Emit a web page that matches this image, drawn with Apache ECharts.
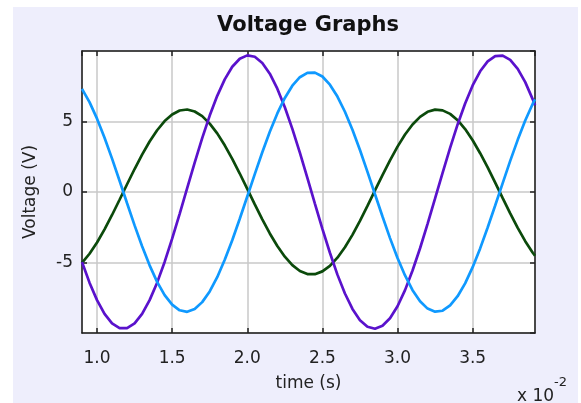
<!DOCTYPE html>
<html>
<head>
<meta charset="utf-8">
<script src="https://cdn.jsdelivr.net/npm/echarts@6/dist/echarts.min.js"></script>
<style>html,body{margin:0;padding:0;background:#fff}#c{width:581px;height:403px}</style>
</head>
<body>
<div id="c"></div>
<script>
// time in units of 10^-2 s
const time = [0.90,0.95,1.00,1.05,1.10,1.15,1.20,1.25,1.30,1.35,1.40,1.45,1.50,1.55,1.60,1.65,1.70,1.75,1.80,1.85,1.90,1.95,2.00,2.05,2.10,2.15,2.20,2.25,2.30,2.35,2.40,2.45,2.50,2.55,2.60,2.65,2.70,2.75,2.80,2.85,2.90,2.95,3.00,3.05,3.10,3.15,3.20,3.25,3.30,3.35,3.40,3.45,3.50,3.55,3.60,3.65,3.70,3.75,3.80,3.85,3.90,3.915];
const voltPurple = [-4.96,-6.43,-7.67,-8.65,-9.32,-9.66,-9.66,-9.32,-8.65,-7.67,-6.43,-4.96,-3.31,-1.55,0.27,2.08,3.82,5.42,6.82,7.99,8.88,9.45,9.69,9.59,9.15,8.39,7.33,6.01,4.48,2.79,1.00,-0.82,-2.61,-4.31,-5.86,-7.20,-8.29,-9.09,-9.56,-9.70,-9.49,-8.95,-8.10,-6.96,-5.57,-3.99,-2.26,-0.46,1.36,3.13,4.79,6.28,7.56,8.56,9.26,9.64,9.67,9.37,8.73,7.79,6.57,6.16];
const voltBlue = [7.31,6.37,5.20,3.85,2.37,0.80,-0.80,-2.37,-3.85,-5.20,-6.37,-7.31,-7.99,-8.39,-8.50,-8.30,-7.81,-7.05,-6.04,-4.81,-3.42,-1.90,-0.32,1.27,2.82,4.27,5.57,6.67,7.54,8.14,8.45,8.47,8.19,7.61,6.77,5.69,4.41,2.98,1.43,-0.16,-1.74,-3.27,-4.68,-5.92,-6.96,-7.75,-8.27,-8.49,-8.42,-8.04,-7.39,-6.48,-5.33,-4.00,-2.52,-0.96,0.63,2.21,3.70,5.07,6.26,6.57];
const voltGreen = [-5.03,-4.38,-3.58,-2.65,-1.63,-0.55,0.55,1.63,2.65,3.58,4.38,5.03,5.50,5.78,5.85,5.71,5.38,4.85,4.16,3.31,2.35,1.31,0.22,-0.88,-1.94,-2.94,-3.83,-4.59,-5.19,-5.60,-5.82,-5.83,-5.63,-5.24,-4.66,-3.92,-3.04,-2.05,-0.99,0.11,1.20,2.25,3.22,4.08,4.79,5.33,5.69,5.84,5.79,5.54,5.09,4.46,3.67,2.75,1.74,0.66,-0.44,-1.52,-2.55,-3.49,-4.31,-4.52];
const xMin = 0.9, xMax = 3.915, yMin = -10, yMax = 10;
const titleText = 'Voltage Graphs';
const xName = 'time (s)';
const yName = 'Voltage (V)';

function pairs(ys){ return time.map((t,i)=>[t, ys[i]]); }

const FONT = 'DejaVu Sans';
const chart = echarts.init(document.getElementById('c'), null, {renderer:'canvas'});
const tickStyle = {show:true, inside:true, length:5, lineStyle:{color:'#222', width:1.5}};
const lineStyleAxis = {show:true, onZero:false, lineStyle:{color:'#1a1a1a', width:1.5}};
const splitStyle = {show:true, lineStyle:{color:'#c8c8c8', width:1.5}};
chart.setOption({
  backgroundColor:'#ffffff',
  animation:false,
  title:{text:titleText, top:15, padding:0, left:308, textAlign:'center', textStyle:{fontFamily:FONT, fontWeight:'bold', fontSize:21, color:'#111'}},
  graphic:[
    {type:'rect', z:-10, silent:true, shape:{x:13, y:7, width:565, height:396}, style:{fill:'#eeeefc'}},
    {type:'text', left:517, top:388, style:{text:'x 10', font:'17px "DejaVu Sans"', fill:'#222'}},
    {type:'text', left:554, top:376, style:{text:'-2', font:'13px "DejaVu Sans"', fill:'#222'}}
  ],
  grid:{left:82, right:46, top:51, bottom:70, show:true, backgroundColor:'#ffffff', borderWidth:0},
  xAxis:[
    {type:'value', min:xMin, max:xMax, splitNumber:6, position:'bottom',
     axisLine:lineStyleAxis, axisTick:tickStyle, splitLine:splitStyle,
     axisLabel:{showMinLabel:false, showMaxLabel:false, margin:17, fontFamily:FONT, fontSize:17, color:'#222', formatter:v=>v.toFixed(1)},
     name:xName, nameLocation:'middle', nameGap:42, nameTextStyle:{fontFamily:FONT, fontSize:17, color:'#222'}},
    {type:'value', min:xMin, max:xMax, splitNumber:6, position:'top',
     axisLine:lineStyleAxis, axisTick:tickStyle, splitLine:{show:false}, axisLabel:{show:false}}
  ],
  yAxis:[
    {type:'value', min:yMin, max:yMax, interval:5, position:'left',
     axisLine:lineStyleAxis, axisTick:tickStyle, splitLine:splitStyle,
     axisLabel:{showMinLabel:false, showMaxLabel:false, margin:9, fontFamily:FONT, fontSize:17, color:'#222'},
     name:yName, nameLocation:'middle', nameGap:43, nameTextStyle:{fontFamily:FONT, fontSize:17, color:'#222'}},
    {type:'value', min:yMin, max:yMax, interval:5, position:'right',
     axisLine:lineStyleAxis, axisTick:tickStyle, splitLine:{show:false}, axisLabel:{show:false}}
  ],
  series:[
    {name:'green', type:'line', data:pairs(voltGreen), showSymbol:false, lineStyle:{color:'#0b4a0b', width:2.7}, clip:true},
    {name:'purple', type:'line', data:pairs(voltPurple), showSymbol:false, lineStyle:{color:'#5a12cc', width:2.7}, clip:true},
    {name:'blue', type:'line', data:pairs(voltBlue), showSymbol:false, lineStyle:{color:'#0f99ff', width:2.7}, clip:true}
  ]
});
</script>
</body>
</html>
